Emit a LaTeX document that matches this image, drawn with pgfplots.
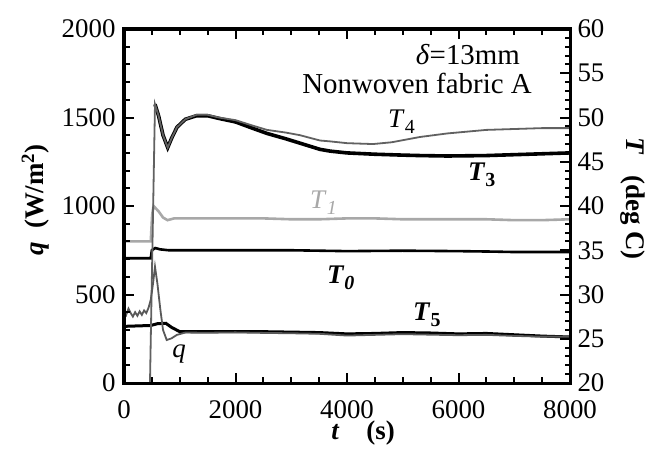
\documentclass[border=0pt]{standalone}
\usepackage{fontspec}
\setmainfont{Liberation Serif}
\usepackage{pgfplots}
\pgfplotsset{compat=1.18}
\begin{document}
\begin{tikzpicture}
\path (-124bp,-65bp) rectangle (527bp,383bp);
\begin{axis}[
  scale only axis, width=446bp, height=354bp,
  xmin=0, xmax=8000,
  ymin=20, ymax=60,
  ytick={20,25,30,35,40,45,50,55,60},
  yticklabels={20,25,30,35,40,45,50,55,60},
  minor y tick num=4,
  hide x axis,
  axis y line*=right,
  major tick length=10bp,
  every tick/.style={draw=black, line width=2bp},
  axis line style={draw=black, line width=3bp},
  yticklabel style={font=\fontsize{27}{30}\selectfont, xshift=4bp},
]
\addplot[black!34, line width=2.6bp] coordinates {
(0,36.0)(480,36.0)(505,39.0)(530,40.0)(620,39.4)(700,38.7)(780,38.4)(900,38.6)(1500,38.6)(2000,38.6)(2500,38.6)(3000,38.5)(3500,38.5)(4000,38.6)(4500,38.6)(5000,38.5)(5500,38.5)(6000,38.5)(6500,38.5)(7000,38.4)(7500,38.4)(8000,38.5)
};
\addplot[black, line width=2.6bp] coordinates {
(0,34.1)(480,34.1)(500,35.0)(560,35.25)(650,35.1)(800,35.0)(1500,35.0)(2000,35.0)(3000,35.0)(4000,34.9)(5000,34.95)(6000,34.9)(6600,34.85)(7000,34.8)(7500,34.8)(8000,34.8)
};
\addplot[black, line width=3bp] coordinates {
(0,26.4)(480,26.5)(600,26.7)(750,26.75)(850,26.3)(1000,25.8)(1500,25.8)(2000,25.8)(2500,25.8)(3000,25.75)(3500,25.7)(4000,25.55)(4500,25.6)(5000,25.7)(5500,25.65)(6000,25.55)(6500,25.6)(7000,25.45)(7500,25.3)(8000,25.2)
};
\addplot[black, line width=3.6bp] coordinates {
(556,51.5)(620,50.2)(700,48.0)(784,46.6)(850,47.6)(950,48.9)(1100,49.8)(1300,50.2)(1500,50.2)(1700,49.9)(2000,49.5)(2300,48.8)(2565,48.2)(2900,47.6)(3157,47.1)(3516,46.4)(3700,46.2)(4000,46.0)(4500,45.85)(5000,45.75)(5310,45.7)(5800,45.65)(6500,45.7)(7000,45.8)(7500,45.9)(8000,46.0)
};
\addplot[black!62, line width=1.8bp] coordinates {
(466,20)(556,51.5)(620,50.2)(700,48.0)(784,46.6)(850,47.6)(950,48.9)(1100,49.8)(1300,50.3)(1500,50.3)(1700,50.0)(2000,49.7)(2300,49.1)(2565,48.6)(2900,48.3)(3157,48.0)(3516,47.4)(3700,47.3)(4000,47.1)(4467,47.0)(4800,47.2)(5310,47.8)(5800,48.2)(6500,48.6)(7000,48.7)(7500,48.8)(8000,48.8)
};
\end{axis}
\begin{axis}[
  scale only axis, width=446bp, height=354bp,
  xmin=0, xmax=8000,
  xtick={0,2000,4000,6000,8000},
  xticklabels={0,2000,4000,6000,8000},
  minor x tick num=3,
  ymin=0, ymax=2000,
  ytick={0,500,1000,1500,2000},
  yticklabels={0,500,1000,1500,2000},
  minor y tick num=4,
  ytick pos=left,
  major tick length=10bp,
  every tick/.style={draw=black, line width=2bp},
  axis line style={draw=black, line width=3bp},
  xticklabel style={font=\fontsize{27}{30}\selectfont, yshift=-14bp},
  yticklabel style={font=\fontsize{27}{30}\selectfont, xshift=-5bp},
]
\addplot[black!65, line width=1.8bp] coordinates {
(0,410)(40,385)(80,420)(120,395)(160,375)(200,400)(240,380)(280,405)(320,385)(360,410)(400,395)(440,425)(480,470)(520,560)(556,657)(600,560)(650,420)(700,300)(766,243)(850,252)(950,272)(1100,285)(1500,284)(2000,286)(2500,283)(3000,281)(3500,278)(4000,268)(4500,272)(5000,276)(5500,273)(6000,270)(6500,272)(7000,266)(7500,262)(8000,262)
};
\end{axis}
\foreach \i in {0,...,16} {
  \draw[draw=black, line width=2bp] ({\i*27.875bp},0) -- ++(0,6bp);
  \draw[draw=black, line width=2bp] ({\i*27.875bp},354bp) -- ++(0,-6bp);
}
\foreach \i in {0,...,4} {
  \draw[draw=black, line width=2bp] ({\i*111.5bp},0) -- ++(0,10bp);
  \draw[draw=black, line width=2bp] ({\i*111.5bp},354bp) -- ++(0,-10bp);
}
\foreach \i in {0,...,20} {\draw[draw=black, line width=2bp] (0,{\i*17.7bp}) -- ++(6bp,0);}
\foreach \i in {0,...,4} {\draw[draw=black, line width=2bp] (0,{\i*88.5bp}) -- ++(10bp,0);}
\foreach \i in {0,...,40} {\draw[draw=black, line width=2bp] (446bp,{\i*8.85bp}) -- ++(-5bp,0);}
\foreach \i in {0,...,8} {\draw[draw=black, line width=2bp] (446bp,{\i*44.25bp}) -- ++(-10bp,0);}
\draw[draw=black, line width=3bp] (0,0) rectangle (446bp,354bp);
\node[anchor=center, font=\fontsize{29}{32}\selectfont] at (343.9bp,328.2bp) {\textit{δ}=13mm};
\node[anchor=center, font=\fontsize{29}{32}\selectfont] at (293.0bp,299.1bp) {Nonwoven fabric A};
\node[anchor=base west, inner sep=0pt, font=\fontsize{27}{30}\selectfont] at (264.0bp,255.9bp) {\textit{T}\raisebox{-6bp}{\fontsize{20}{22}\selectfont 4}};
\node[anchor=base west, inner sep=0pt, font=\fontsize{27}{30}\selectfont\bfseries] at (343.9bp,202.8bp) {\textit{T}\raisebox{-6bp}{\fontsize{20}{22}\selectfont 3}};
\node[anchor=base west, inner sep=0pt, text=black!34, font=\fontsize{27}{30}\selectfont] at (186.0bp,174.9bp) {\textit{T}\raisebox{-6bp}{\fontsize{20}{22}\selectfont\itshape 1}};
\node[anchor=base west, inner sep=0pt, font=\fontsize{27}{30}\selectfont\bfseries] at (202.9bp,99.8bp) {\textit{T}\raisebox{-6bp}{\fontsize{20}{22}\selectfont\itshape 0}};
\node[anchor=base west, inner sep=0pt, font=\fontsize{27}{30}\selectfont\bfseries] at (289.0bp,63.0bp) {\textit{T}\raisebox{-6bp}{\fontsize{20}{22}\selectfont 5}};
\node[anchor=base west, inner sep=0pt, font=\fontsize{27}{30}\selectfont] at (48.2bp,25.1bp) {\textit{q}};
\node[anchor=center, rotate=90, font=\fontsize{27}{30}\selectfont\bfseries] at (-88.8bp,183.0bp) {\textit{q}\ \ (W/m\textsuperscript{2})};
\node[anchor=center, rotate=-90, font=\fontsize{27}{30}\selectfont\bfseries] at (508.9bp,184.1bp) {\textit{T}\ \ \ (deg C)};
\node[anchor=center, font=\fontsize{27}{30}\selectfont\bfseries] at (239.1bp,-50.5bp) {\textit{t}\ \ \ \ (s)};
\end{tikzpicture}
\end{document}
